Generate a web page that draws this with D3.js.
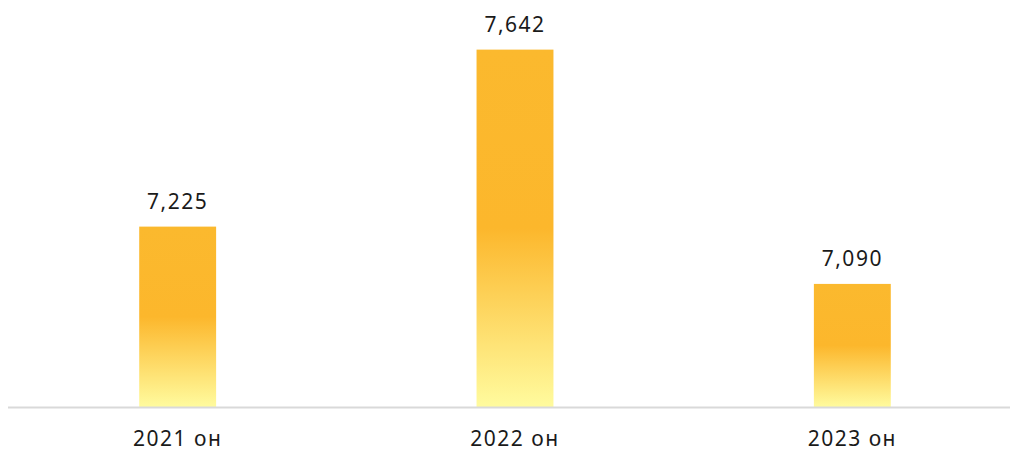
<!DOCTYPE html>
<html>
<head>
<meta charset="utf-8">
<script src="https://cdn.jsdelivr.net/npm/d3@7"></script>
<style>
  body { margin: 0; background: #fff; }
  text { font-family: "Noto Sans", "DejaVu Sans", sans-serif; fill: #1a1a1a; letter-spacing: 1.5px; }
</style>
</head>
<body>
<div class="chart"></div>
<script>
let FRAME_WIDTH = 1012;
let FRAME_HEIGHT = 451;
let BASE_Y = 407;

let categories = ["2021 он", "2022 он", "2023 он"];
let values = [7225, 7642, 7090];

let FRAME = d3.select(".chart")
              .append("svg")
              .attr("width", FRAME_WIDTH)
              .attr("height", FRAME_HEIGHT);

// gradient for bars: orange on top, light yellow at bottom
let grad = FRAME.append("defs")
                .append("linearGradient")
                .attr("id", "barGrad")
                .attr("x1", 0).attr("y1", 0)
                .attr("x2", 0).attr("y2", 1);
grad.append("stop").attr("offset", "0%").attr("stop-color", "#FBB92E");
grad.append("stop").attr("offset", "50%").attr("stop-color", "#FCB72C");
grad.append("stop").attr("offset", "100%").attr("stop-color", "#FFFB9E");

const X_SCALE = d3.scaleBand()
                  .domain(categories)
                  .range([9, 1021])
                  .paddingInner(0.772)
                  .paddingOuter(0.386);

const Y_SCALE = d3.scaleLinear()
                  .domain([6800, 7700])
                  .range([BASE_Y, BASE_Y - 382]);

// bars
FRAME.selectAll("rect.bar")
     .data(values)
     .enter()
     .append("rect")
       .attr("class", "bar")
       .attr("x", (d, i) => X_SCALE(categories[i]))
       .attr("y", (d) => Y_SCALE(d))
       .attr("width", X_SCALE.bandwidth())
       .attr("height", (d) => BASE_Y - Y_SCALE(d))
       .attr("fill", "url(#barGrad)");

// value labels
FRAME.selectAll("text.val")
     .data(values)
     .enter()
     .append("text")
       .attr("class", "val")
       .attr("x", (d, i) => X_SCALE(categories[i]) + X_SCALE.bandwidth() / 2)
       .attr("y", (d) => Y_SCALE(d) - 18)
       .attr("text-anchor", "middle")
       .attr("font-size", "21px")
       .text((d) => d3.format(",")(d));

// baseline
FRAME.append("line")
     .attr("x1", 8).attr("x2", 1010)
     .attr("y1", BASE_Y + 0.5).attr("y2", BASE_Y + 0.5)
     .attr("stroke", "#d9d9d9")
     .attr("stroke-width", 2);

// category labels
FRAME.selectAll("text.cat")
     .data(categories)
     .enter()
     .append("text")
       .attr("class", "cat")
       .attr("x", (d) => X_SCALE(d) + X_SCALE.bandwidth() / 2)
       .attr("y", 446)
       .attr("text-anchor", "middle")
       .attr("font-size", "21px")
       .text((d) => d);
</script>
</body>
</html>
